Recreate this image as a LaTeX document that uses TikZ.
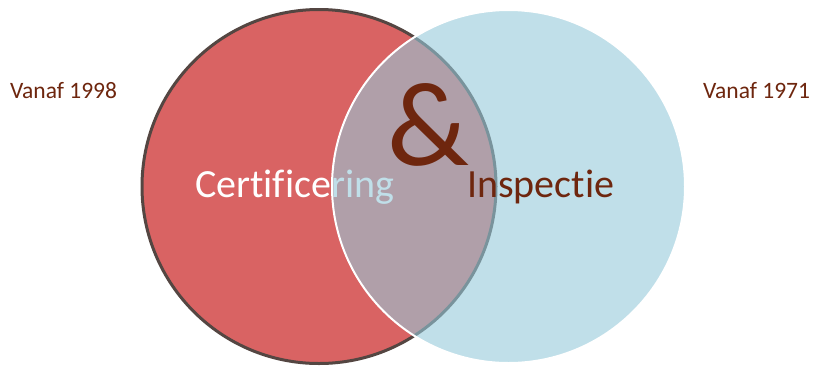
\documentclass[tikz,border=0pt]{standalone}
\usepackage{fontspec}
\setmainfont{Carlito}[Ligatures={NoCommon}]
\definecolor{redfill}{RGB}{217,99,99}
\definecolor{redline}{RGB}{84,70,66}
\definecolor{bluefill}{RGB}{148,202,219}
\definecolor{brown}{RGB}{110,38,14}
\tikzset{
  lbl/.style={inner sep=0pt, anchor=base west, font=\fontsize{40}{40}\selectfont},
  yr/.style={inner sep=0pt, anchor=base west, text=brown, font=\fontsize{23.5}{23.5}\selectfont},
}
\begin{document}
\begin{tikzpicture}[x=1pt,y=-1pt]
\useasboundingbox (0,0) rectangle (814,368);
\fill[white] (0,0) rectangle (814,368);
\path[fill=redfill, draw=redline, line width=3pt] (319,186.5) circle[radius=177];
\node[lbl, text=white] (cert) at (195,197) {Certificering};
\path[fill=bluefill, fill opacity=0.59, draw=white, line width=2pt] (508.5,186.5) circle[radius=176.5];
\node[lbl, text=brown] (insp) at (467,197) {Inspectie};
\node[inner sep=0pt, anchor=base west, text=brown, font=\fontsize{120}{120}\selectfont] (amp) at (387,165) {\&};
\node[yr] (y1) at (10,98) {Vanaf 1998};
\node[yr] (y2) at (703,98) {Vanaf 1971};
\end{tikzpicture}
\end{document}
